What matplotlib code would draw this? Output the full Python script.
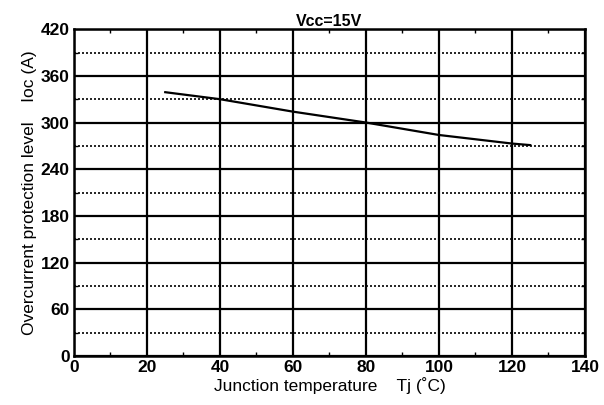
import matplotlib.pyplot as plt
from matplotlib.ticker import MultipleLocator

# Overcurrent protection level vs junction temperature (Vcc=15V)
tj = [25, 40, 60, 80, 100, 120, 125]
ioc = [339, 330, 314, 300, 284, 273, 271]

x_ticks = [0, 20, 40, 60, 80, 100, 120, 140]
y_ticks = [0, 60, 120, 180, 240, 300, 360, 420]

plt.rcParams['font.family'] = ['Liberation Sans', 'DejaVu Sans']

fig = plt.figure(figsize=(6.04, 4.05), dpi=100)
ax = fig.add_axes([0.1225, 0.121, 0.846, 0.807])

ax.plot(tj, ioc, color='black', linewidth=1.6, zorder=3)

ax.set_xlim(0, 140)
ax.set_ylim(0, 420)
ax.set_xticks(x_ticks)
ax.set_yticks(y_ticks)
ax.xaxis.set_minor_locator(MultipleLocator(10))
ax.yaxis.set_minor_locator(MultipleLocator(30))

# solid major grid, dotted half-steps on y
ax.grid(which='major', color='black', linewidth=1.6, linestyle='-')
ax.grid(which='minor', axis='y', color='black', linewidth=1.2, linestyle=(0, (1.2, 1.2)))

for side in ax.spines.values():
    side.set_linewidth(1.8)

ax.tick_params(which='both', direction='in', top=True, right=True)
ax.tick_params(which='major', length=0, labelsize=12.5, pad=3)
ax.tick_params(which='minor', length=3, width=1)
for lbl in ax.get_xticklabels() + ax.get_yticklabels():
    lbl.set_fontweight('bold')

ax.set_xlabel('Junction temperature    Tj (\u02daC)', fontsize=12.5, labelpad=1)
ax.set_ylabel('Overcurrent protection level    Ioc (A)', fontsize=12.5, labelpad=3)
ax.set_title('Vcc=15V', fontsize=11.5, fontweight='bold', pad=2)

fig.savefig('out.png', dpi=100)
